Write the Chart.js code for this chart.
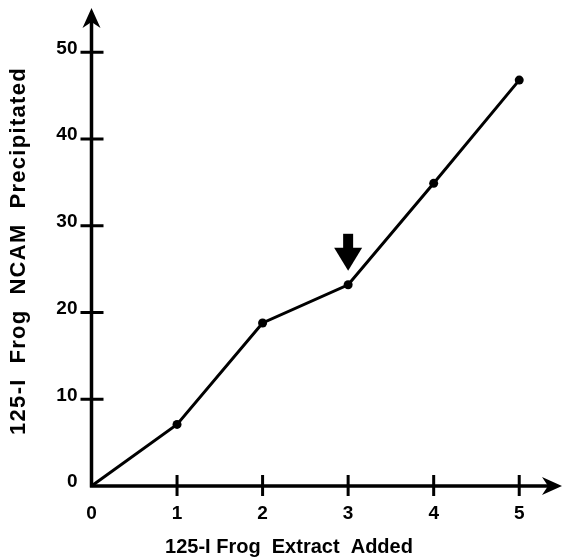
<!DOCTYPE html>
<html>
<head>
<meta charset="utf-8">
<script src="https://cdn.jsdelivr.net/npm/chart.js@4/dist/chart.umd.min.js"></script>
<style>
  html,body{margin:0;padding:0;background:#fff}
</style>
</head>
<body>
<canvas id="chart" width="562" height="558"></canvas>
<script>
const extractAdded = [0, 1, 2, 3, 4, 5];
const ncamPrecipitated = [0, 7.1, 18.8, 23.2, 34.9, 46.8];
const xTicks = [0, 1, 2, 3, 4, 5];
const yTicks = [0, 10, 20, 30, 40, 50];
const arrowAtIndex = 3;
const xTitle = "125-I Frog  Extract  Added";
const yTitle = "125-I  Frog  NCAM  Precipitated";

Chart.defaults.font.family = "'Liberation Sans', Arial, sans-serif";
Chart.defaults.color = "#000";

function noPadding(s) {
  s.paddingTop = 0; s.paddingBottom = 0; s.paddingLeft = 0; s.paddingRight = 0;
}

// axes with arrowheads, crossing tick marks, the marker arrow and the titles
const axesPlugin = {
  id: "axes",
  beforeDatasetsDraw(chart) {
    const {ctx, chartArea: a, scales: {x, y}} = chart;
    const x0 = x.getPixelForValue(0), y0 = y.getPixelForValue(0);
    ctx.save();
    ctx.strokeStyle = "#000";
    ctx.fillStyle = "#000";
    ctx.lineWidth = 3.5;
    ctx.beginPath();
    ctx.moveTo(x0, y0 + 1.5); ctx.lineTo(x0, a.top + 10);
    ctx.moveTo(x0 - 1.5, y0); ctx.lineTo(a.right - 10, y0);
    ctx.stroke();

    ctx.lineWidth = 3;
    ctx.beginPath();
    yTicks.forEach(v => {
      if (v === 0) return;
      const p = y.getPixelForValue(v);
      ctx.moveTo(x0 - 11, p); ctx.lineTo(x0 + 12, p);
    });
    xTicks.forEach(v => {
      if (v === 0) return;
      const p = x.getPixelForValue(v);
      ctx.moveTo(p, y0 - 11); ctx.lineTo(p, y0 + 10);
    });
    ctx.stroke();

    // arrowheads
    ctx.beginPath();
    ctx.moveTo(x0, a.top - 1);
    ctx.lineTo(x0 + 9, a.top + 19);
    ctx.lineTo(x0, a.top + 13);
    ctx.lineTo(x0 - 9, a.top + 19);
    ctx.closePath();
    ctx.fill();
    ctx.beginPath();
    ctx.moveTo(a.right, y0);
    ctx.lineTo(a.right - 20, y0 - 9);
    ctx.lineTo(a.right - 14, y0);
    ctx.lineTo(a.right - 20, y0 + 9);
    ctx.closePath();
    ctx.fill();
    ctx.restore();
  },
  afterDraw(chart) {
    const {ctx, scales: {x, y}} = chart;
    ctx.save();
    ctx.fillStyle = "#000";
    // downward arrow over the point at x = 3
    const px = x.getPixelForValue(extractAdded[arrowAtIndex]);
    const tip = y.getPixelForValue(ncamPrecipitated[arrowAtIndex]) - 14;
    ctx.fillRect(px - 5, tip - 37, 10, 15);
    ctx.beginPath();
    ctx.moveTo(px - 14, tip - 23);
    ctx.lineTo(px + 14, tip - 23);
    ctx.lineTo(px, tip);
    ctx.closePath();
    ctx.fill();

    // titles
    ctx.font = "bold 20px 'Liberation Sans', Arial, sans-serif";
    ctx.textAlign = "center";
    ctx.textBaseline = "middle";
    ctx.fillText(xTitle, 289, 547);
    ctx.translate(19, 251);
    ctx.rotate(-Math.PI / 2);
    ctx.font = "bold 22px 'Liberation Sans', Arial, sans-serif";
    ctx.letterSpacing = "1.3px";
    ctx.fillText(yTitle, 0, 0);
    ctx.restore();
  }
};

new Chart(document.getElementById("chart"), {
  type: "line",
  data: {
    labels: extractAdded,
    datasets: [{
      data: extractAdded.map((v, i) => ({x: v, y: ncamPrecipitated[i]})),
      borderColor: "#000",
      borderWidth: 3,
      backgroundColor: "#000",
      pointBackgroundColor: "#000",
      pointBorderWidth: 0,
      pointRadius: ctx => ctx.dataIndex === 0 ? 0 : 4.5,
      tension: 0,
      clip: false
    }]
  },
  options: {
    responsive: false,
    animation: false,
    layout: {autoPadding: false, padding: {top: 9, right: 0, bottom: 0, left: 0}},
    plugins: {legend: {display: false}, tooltip: {enabled: false}},
    scales: {
      x: {
        type: "linear",
        min: 0,
        max: 5.5,
        afterBuildTicks: s => { s.ticks = xTicks.map(v => ({value: v})); },
        afterFit: s => { s.height = 72; noPadding(s); },
        grid: {display: false, drawTicks: false},
        border: {display: false},
        ticks: {font: {size: 19, weight: "bold"}, padding: 16, maxRotation: 0}
      },
      y: {
        min: 0,
        max: 55,
        afterBuildTicks: s => { s.ticks = yTicks.map(v => ({value: v})); },
        afterFit: s => { s.width = 91.5; noPadding(s); },
        grid: {display: false, drawTicks: false},
        border: {display: false},
        ticks: {font: {size: 19, weight: "bold"}, padding: 14, labelOffset: -4}
      }
    }
  },
  plugins: [axesPlugin]
});
</script>
</body>
</html>
